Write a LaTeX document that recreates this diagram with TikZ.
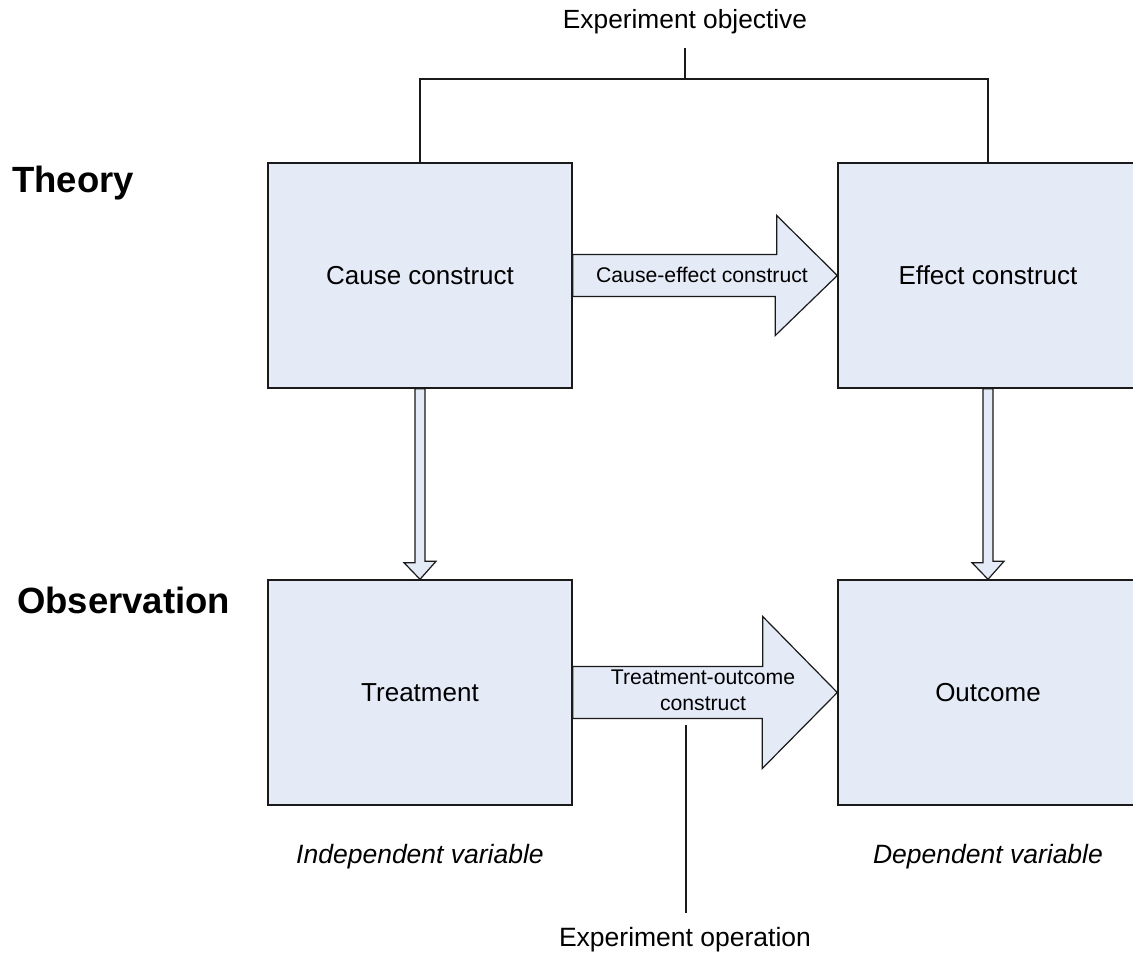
\documentclass[tikz,border=0pt]{standalone}
\usepackage{fontspec}
\setmainfont{Liberation Sans}
\usetikzlibrary{calc}
\definecolor{boxfill}{HTML}{E4EBF7}
\definecolor{ink}{HTML}{1A1A1A}
\begin{document}
\begin{tikzpicture}[x=1pt,y=-1pt,
  box/.style={draw=ink,line width=1.4pt,fill=boxfill,minimum width=304pt,minimum height=225pt,inner sep=0pt,font=\fontsize{26}{29}\selectfont},
  fatarrow/.style={draw=ink,line width=1.2pt,fill=boxfill,line join=miter},
  link/.style={draw=ink,line width=1.4pt},
  heading/.style={font=\fontsize{36.5}{40}\selectfont\bfseries,inner sep=0pt},
  caption/.style={font=\fontsize{26.3}{29}\selectfont,inner sep=0pt},
  varlabel/.style={font=\fontsize{26.5}{29}\selectfont\itshape,inner sep=0pt},
  arrowlabel/.style={font=\fontsize{21.2}{26}\selectfont,inner sep=0pt,align=center}]
\clip (0,0) rectangle (1133,955);
\fill[white] (0,0) rectangle (1133,955);

% construct and observation boxes
\node[box] (cause)   at (420,275.5) {Cause construct};
\node[box,minimum width=300pt] (effect)  at (988,275.5) {Effect construct};
\node[box] (treat)   at (420,692.5) {Treatment};
\node[box,minimum width=300pt] (outcome) at (988,692.5) {Outcome};

% row headings
\node[heading,anchor=base west] (theory) at (12,193) {Theory};
\node[heading,anchor=base west] (observ) at (17,613) {Observation};

% experiment objective bracket
\coordinate (objtop) at (685,79);
\coordinate (objstem) at (685,48);
\node[caption] (objlabel) at (685,22) {Experiment objective};
\draw[link] (cause.north) |- (objtop) -| (effect.north);
\draw[link] (objtop) -- (objstem);

% cause-effect block arrow
\draw[fatarrow] ([yshift=21pt]cause.east) -- ++(204,0) -- ++(0,-39) -- (effect.west)
  -- ++(-62,60) -- ++(0,-39) -- ([yshift=-21pt]cause.east) -- cycle;
\node[arrowlabel] (celabel) at (702,275) {Cause-effect construct};

% treatment-outcome block arrow
\draw[fatarrow] ([yshift=26pt]treat.east) -- ++(190,0) -- ++(0,-50) -- (outcome.west)
  -- ++(-75,76) -- ++(0,-50) -- ([yshift=-26pt]treat.east) -- cycle;
\node[arrowlabel] (tolabel) at (703,690) {Treatment-outcome\\construct};

% theory to observation arrows
\draw[fatarrow] ([xshift=-5pt]cause.south) -- ++(0,174) -- ++(-11,0) -- (treat.north)
  -- ++(16,-18) -- ++(-11,0) -- ([xshift=5pt]cause.south) -- cycle;
\draw[fatarrow] ([xshift=-5pt]effect.south) -- ++(0,174) -- ++(-11,0) -- (outcome.north)
  -- ++(16,-18) -- ++(-11,0) -- ([xshift=5pt]effect.south) -- cycle;

% experiment operation pointer
\coordinate (optop) at (686,725);
\coordinate (opbot) at (686,913);
\draw[link] (optop) -- (opbot);
\node[caption,font=\fontsize{26.5}{29}\selectfont] (oplabel) at (685,940) {Experiment operation};

% variable captions
\node[varlabel] (indep) at (420,857) {Independent variable};
\node[varlabel] (dep) at (988,857) {Dependent variable};
\end{tikzpicture}
\end{document}
